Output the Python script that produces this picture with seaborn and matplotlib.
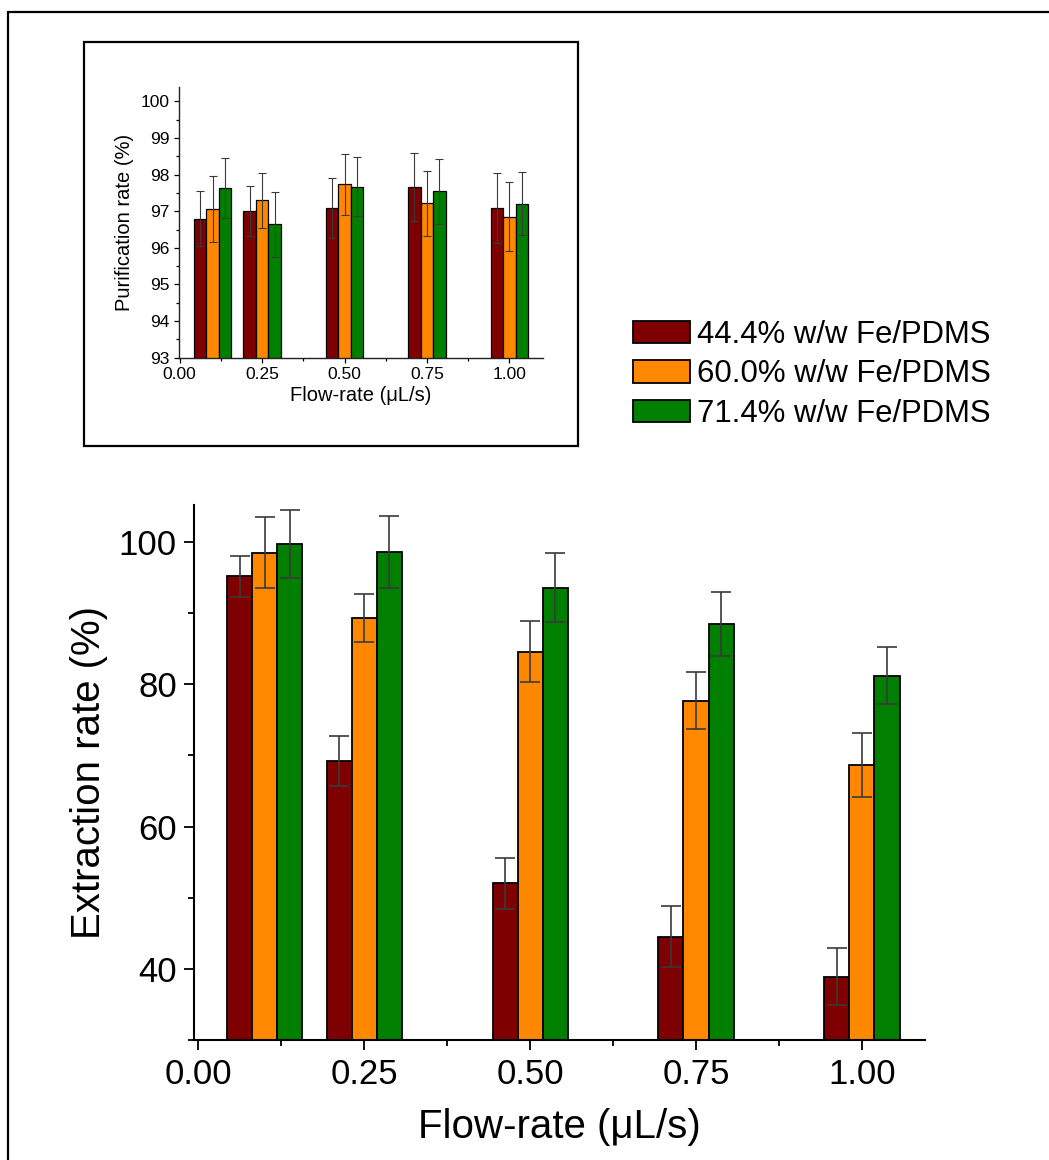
import numpy as np
import pandas as pd
import matplotlib
matplotlib.use("Agg")
import matplotlib.pyplot as plt
from matplotlib.ticker import MultipleLocator
from matplotlib.patches import Rectangle
from matplotlib.lines import Line2D
import seaborn as sns

# ---------------- data ----------------
flow_rates = [0.10, 0.25, 0.50, 0.75, 1.00]
series = ["44.4% w/w Fe/PDMS", "60.0% w/w Fe/PDMS", "71.4% w/w Fe/PDMS"]
colors = ["#7F0000", "#FF8800", "#007F00"]

# Extraction rate (%) main chart
extr_444 = [95.2, 69.2, 52.0, 44.5, 38.9]
extr_600 = [98.5, 89.3, 84.6, 77.7, 68.7]
extr_714 = [99.7, 98.6, 93.6, 88.5, 81.2]
extr_err_444 = [2.9, 3.5, 3.6, 4.3, 4.0]
extr_err_600 = [5.0, 3.4, 4.3, 4.0, 4.5]
extr_err_714 = [4.8, 5.0, 4.8, 4.5, 4.0]

# Purification rate (%) inset
pur_444 = [96.80, 97.00, 97.09, 97.66, 97.09]
pur_600 = [97.05, 97.30, 97.74, 97.22, 96.85]
pur_714 = [97.64, 96.64, 97.67, 97.54, 97.21]
pur_err_444 = [0.76, 0.69, 0.82, 0.92, 0.96]
pur_err_600 = [0.90, 0.75, 0.83, 0.89, 0.95]
pur_err_714 = [0.82, 0.89, 0.81, 0.88, 0.86]

x_ticks = [0.00, 0.25, 0.50, 0.75, 1.00]
x_tick_labels = ["0.00", "0.25", "0.50", "0.75", "1.00"]
xlabel = "Flow-rate (\u03bcL/s)"
main_ylabel = "Extraction rate (%)"
inset_ylabel = "Purification rate (%)"


def long_frame(vals, errs):
    rows = []
    for s, v, e in zip(series, vals, errs):
        for f, vv, ee in zip(flow_rates, v, e):
            rows.append({"flow": f, "series": s, "value": vv, "err": ee})
    return pd.DataFrame(rows)


df_main = long_frame([extr_444, extr_600, extr_714],
                     [extr_err_444, extr_err_600, extr_err_714])
df_ins = long_frame([pur_444, pur_600, pur_714],
                    [pur_err_444, pur_err_600, pur_err_714])

# ---------------- style ----------------
sns.set_style("ticks")
plt.rcParams["font.family"] = ["Liberation Sans", "DejaVu Sans"]
plt.rcParams["text.color"] = "black"
plt.rcParams["axes.labelcolor"] = "black"
plt.rcParams["xtick.color"] = "black"
plt.rcParams["ytick.color"] = "black"

fig = plt.figure(figsize=(10.49, 11.6), dpi=100)

W, H = 1049.0, 1160.0


def fx(px):
    return px / W


def fy(py):
    return 1 - py / H


palette = dict(zip(series, colors))


def draw(ax, df, capsize, elw, barlw):
    sns.barplot(data=df, x="flow", y="value", hue="series", hue_order=series,
                palette=palette, native_scale=True, width=0.755,
                errorbar=None, edgecolor="black", linewidth=barlw,
                saturation=1, ax=ax, legend=True)
    patches = [p for p in ax.patches if p.get_width() > 0 and p.get_height() != 0]
    for s in series:
        sub = df[df["series"] == s]
        for _, r in sub.iterrows():
            best = None
            for p in patches:
                top = p.get_y() + p.get_height()
                cx = p.get_x() + p.get_width() / 2
                if abs(top - r["value"]) < 1e-9 and abs(cx - r["flow"]) < 0.1:
                    best = cx
                    break
            if best is None:
                continue
            ax.errorbar(best, r["value"], yerr=r["err"], fmt="none",
                        ecolor="#3a3a3a", elinewidth=elw, capsize=capsize,
                        capthick=elw, zorder=5)


# ---------------- main axes ----------------
ax = fig.add_axes([fx(193.6), fy(1040), fx(925) - fx(193.6), fy(505) - fy(1040)])
draw(ax, df_main, capsize=7, elw=1.2, barlw=1.3)
handles, labels = ax.get_legend_handles_labels()
ax.get_legend().remove()
ax.set_xlim(-0.007, 1.095)
ax.set_ylim(30, 105.2)
ax.set_xticks(x_ticks)
ax.set_xticklabels(x_tick_labels)
ax.xaxis.set_minor_locator(MultipleLocator(0.125))
ax.set_yticks([40, 60, 80, 100])
ax.yaxis.set_minor_locator(MultipleLocator(10))
for s in ["top", "right"]:
    ax.spines[s].set_visible(False)
for s in ["left", "bottom"]:
    ax.spines[s].set_linewidth(1.5)
    ax.spines[s].set_color("black")
ax.tick_params(axis="both", which="major", length=7, width=1.3, labelsize=25, direction="out")
ax.tick_params(axis="both", which="minor", length=4, width=1.3, direction="out")
ax.tick_params(axis="x", pad=6)
ax.tick_params(axis="y", pad=5)
ax.set_xlabel(xlabel, fontsize=29, labelpad=12)
ax.set_ylabel(main_ylabel, fontsize=29, labelpad=8)

# ---------------- inset axes ----------------
axi = fig.add_axes([fx(179), fy(357.7), fx(543.3) - fx(179), fy(86.7) - fy(357.7)])
draw(axi, df_ins, capsize=3, elw=0.8, barlw=0.9)
if axi.get_legend() is not None:
    axi.get_legend().remove()
axi.set_xlim(-0.002, 1.103)
axi.set_ylim(93, 100.4)
axi.set_xticks(x_ticks)
axi.set_xticklabels(x_tick_labels)
axi.xaxis.set_minor_locator(MultipleLocator(0.125))
axi.set_yticks([93, 94, 95, 96, 97, 98, 99, 100])
axi.yaxis.set_minor_locator(MultipleLocator(0.5))
for s in ["top", "right"]:
    axi.spines[s].set_visible(False)
for s in ["left", "bottom"]:
    axi.spines[s].set_linewidth(1.0)
    axi.spines[s].set_color("#222222")
axi.tick_params(axis="both", which="major", length=3.5, width=0.9, labelsize=12.5, direction="out")
axi.tick_params(axis="both", which="minor", length=2, width=0.9, direction="out")
axi.tick_params(axis="x", pad=3)
axi.tick_params(axis="y", pad=3)
axi.set_xlabel(xlabel, fontsize=14.5, labelpad=3)
axi.set_ylabel(inset_ylabel, fontsize=14.5, labelpad=5)

# inset frame
fig.patches.append(Rectangle((fx(83.5), fy(446)), fx(578) - fx(83.5), fy(42.5) - fy(446),
                             transform=fig.transFigure, fill=False,
                             edgecolor="black", linewidth=1.6, zorder=0))

# outer frame (top and left lines)
fig.add_artist(Line2D([fx(7.5), 1.0], [fy(11.5), fy(11.5)], transform=fig.transFigure,
                      color="black", linewidth=1.6))
fig.add_artist(Line2D([fx(7.5), fx(7.5)], [fy(11.5), 0.0], transform=fig.transFigure,
                      color="black", linewidth=1.6))

# ---------------- legend ----------------
fig.legend(handles, labels, loc="upper left",
           bbox_to_anchor=(fx(633), fy(320)), frameon=False,
           fontsize=22.4, handlelength=1.83, handleheight=0.72,
           handletextpad=0.24, labelspacing=0.3, borderpad=0, borderaxespad=0)

fig.savefig("out.png", dpi=100)
